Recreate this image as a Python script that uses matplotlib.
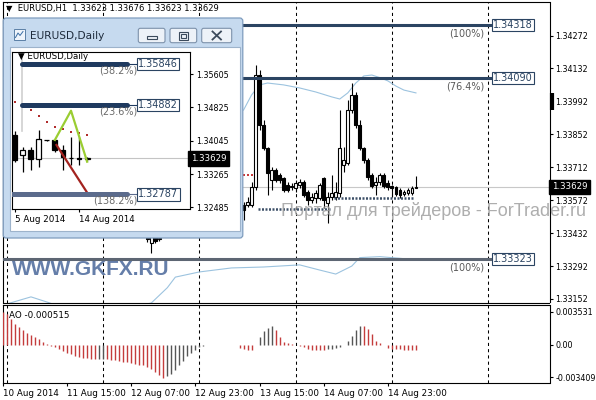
import matplotlib
matplotlib.use("Agg")
import matplotlib.pyplot as plt
import matplotlib.transforms as mtransforms
from matplotlib.patches import Rectangle, FancyBboxPatch
import numpy as np

plt.rcParams["font.family"] = ["DejaVu Sans"]

# ---------------- EURUSD H1 (bar 0 = 10 Aug 23:00) ----------------
h1_bar = [36, 37, 38, 39] + list(range(60, 104))
h1_open = [1.33430, 1.33392, 1.33418, 1.33405,
           1.33552, 1.33552, 1.33552, 1.33628, 1.34104, 1.33892, 1.33794, 1.33658, 1.33700, 1.33679,
           1.33666, 1.33636, 1.33632, 1.33624, 1.33636, 1.33649, 1.33607, 1.33573, 1.33581, 1.33581,
           1.33666, 1.33560, 1.33586, 1.33586, 1.33603, 1.33721, 1.33730, 1.33955, 1.34019, 1.33892,
           1.33794, 1.33743, 1.33679, 1.33636, 1.33649, 1.33679, 1.33645, 1.33632, 1.33628, 1.33615,
           1.33598, 1.33603, 1.33603, 1.33623]
h1_high = [1.33440, 1.33430, 1.33430, 1.33425,
           1.33566, 1.33586, 1.33649, 1.34147, 1.34125, 1.33913, 1.33799, 1.33714, 1.33709, 1.33687,
           1.33670, 1.33649, 1.33645, 1.33658, 1.33662, 1.33658, 1.33615, 1.33603, 1.33615, 1.33645,
           1.33672, 1.33607, 1.33679, 1.33649, 1.33955, 1.33799, 1.33998, 1.34070, 1.34032, 1.33913,
           1.33799, 1.33751, 1.33687, 1.33672, 1.33687, 1.33687, 1.33658, 1.33636, 1.33632, 1.33624,
           1.33615, 1.33624, 1.33632, 1.33676]
h1_low = [1.33395, 1.33348, 1.33390, 1.33398,
          1.33488, 1.33543, 1.33543, 1.33615, 1.33870, 1.33785, 1.33594, 1.33615, 1.33649, 1.33645,
          1.33607, 1.33607, 1.33615, 1.33607, 1.33624, 1.33586, 1.33552, 1.33560, 1.33560, 1.33573,
          1.33539, 1.33475, 1.33573, 1.33573, 1.33586, 1.33691, 1.33721, 1.33943, 1.33879, 1.33785,
          1.33730, 1.33658, 1.33624, 1.33594, 1.33636, 1.33624, 1.33615, 1.33586, 1.33590, 1.33581,
          1.33590, 1.33594, 1.33594, 1.33623]
h1_close = [1.33405, 1.33418, 1.33400, 1.33412,
            1.33530, 1.33566, 1.33628, 1.34104, 1.33892, 1.33794, 1.33687, 1.33700, 1.33658, 1.33658,
            1.33615, 1.33615, 1.33628, 1.33645, 1.33649, 1.33594, 1.33573, 1.33586, 1.33603, 1.33636,
            1.33573, 1.33586, 1.33603, 1.33607, 1.33794, 1.33743, 1.33955, 1.34019, 1.33892, 1.33794,
            1.33743, 1.33670, 1.33632, 1.33650, 1.33679, 1.33632, 1.33628, 1.33624, 1.33598, 1.33594,
            1.33607, 1.33615, 1.33624, 1.33629]
bid = 1.33629

# envelope lines (light blue)
env_up_bar = [60, 62, 64, 66, 70, 74, 78, 82, 84, 86, 88, 90, 92, 94, 96, 98, 100, 103]
env_up_val = [1.33955, 1.34019, 1.34062, 1.34070, 1.34062, 1.34049, 1.34032, 1.34011, 1.34002,
              1.34028, 1.34070, 1.34100, 1.34104, 1.34093, 1.34079, 1.34057, 1.34040, 1.34028]
env_lo_bar = [1, 7, 11, 16, 24, 32, 37, 41, 43, 49, 57, 65, 74, 79, 83, 87, 89, 94, 99, 103]
env_lo_val = [1.33131, 1.33161, 1.33139, 1.33110, 1.33105, 1.33115, 1.33135, 1.33200, 1.33245,
              1.33267, 1.33284, 1.33288, 1.33297, 1.33275, 1.33258, 1.33292, 1.33328, 1.33332,
              1.33325, 1.33318]

# dotted support lines and red dots
sup_level = [1.33534, 1.33581]
sup_start = [63.5, 82.5]
sup_end = [81.5, 102.5]
red_dot_bar = [60, 61, 62]
red_dot_val = [1.33679, 1.33679, 1.33679]

# fibo levels on H1
fib_level = [1.34318, 1.34090, 1.33323]
fib_pct = ["(100%)", "(76.4%)", "(100%)"]
fib_color = ["#2b4462", "#2b4462", "#5d6673"]
fib_end_bar = 122.2

# Awesome Oscillator, bars 0..103
ao_vals = [0.00346, 0.00329, 0.00277, 0.00225, 0.00190, 0.00156, 0.00128, 0.00104, 0.00080, 0.00059,
           0.00035, 0.00010, -0.00010, -0.00024, -0.00045, -0.00059, -0.00080, -0.00097, -0.00114, -0.00128,
           -0.00139, -0.00142, -0.00145, -0.00147, -0.00145, -0.00144, -0.00149, -0.00156, -0.00163, -0.00170,
           -0.00177, -0.00184, -0.00191, -0.00198, -0.00206, -0.00215, -0.00232, -0.00256, -0.00284, -0.00318,
           -0.00346, -0.00328, -0.00301, -0.00260, -0.00215, -0.00173, -0.00121, -0.00087, -0.00052, -0.00024,
           -0.00008, 0.00002, 0.00003, 0.00004, 0.00004, 0.00005, 0.00005, 0.00000, -0.00005, -0.00030,
           -0.00040, -0.00052, -0.00055, 0.00005, 0.00086, 0.00149, 0.00183, 0.00197, 0.00163, 0.00086,
           0.00035, 0.00024, 0.00010, 0.00004, -0.00010, -0.00017, -0.00045, -0.00050, -0.00050, -0.00050,
           -0.00051, -0.00045, -0.00042, -0.00035, -0.00017, 0.00004, 0.00045, 0.00094, 0.00163, 0.00197,
           0.00196, 0.00173, 0.00121, 0.00045, 0.00017, 0.00003, -0.00035, -0.00040, -0.00043, -0.00046,
           -0.00048, -0.00049, -0.00050, -0.000515]

price_ticks = [1.34272, 1.34132, 1.33992, 1.33852, 1.33712, 1.33572, 1.33432, 1.33292, 1.33152]
ao_ticks = [0.003531, 0.0, -0.003409]
ao_tick_labels = ["0.003531", "0.00", "-0.003409"]
time_tick_bar = [0, 16, 32, 48, 64, 80, 96]
time_tick_label = ["10 Aug 2014", "11 Aug 15:00", "12 Aug 07:00", "12 Aug 23:00",
                   "13 Aug 15:00", "14 Aug 07:00", "14 Aug 23:00"]
grid_bar = [1, 25, 49, 73, 97, 121]
side_marker = (1.33955, 1.34028)

# ---------------- EURUSD Daily (inset) ----------------
d_day = list(range(10))  # 5,6,7,8,10,11,12,13,14,15 Aug
d_open = [1.3418, 1.3371, 1.3383, 1.3361, 1.3405, 1.3405, 1.3383, 1.3364, 1.3363, 1.3362]
d_high = [1.3428, 1.3390, 1.3390, 1.3430, 1.3407, 1.3407, 1.3394, 1.3412, 1.3412, 1.3366]
d_low = [1.3355, 1.3332, 1.3336, 1.3342, 1.3404, 1.3378, 1.3336, 1.3348, 1.3348, 1.3358]
d_close = [1.3360, 1.3383, 1.3361, 1.3408, 1.3406, 1.3383, 1.3366, 1.3363, 1.3362, 1.33629]
sar_vals = [1.34957, 1.34868, 1.34763, 1.34611, 1.34482, 1.34372, 1.34311, 1.34241, 1.34218, 1.34171]
green_day = [5, 7, 9]
green_val = [1.34061, 1.34746, 1.33553]
red_day = [5.2, 9]
red_val = [1.33944, 1.32830]
d_fib_level = [1.35846, 1.34882, 1.32787]
d_fib_pct = ["(38.2%)", "(23.6%)", "(138.2%)"]
d_fib_start = [0.9, 0.9, -1.0]
d_fib_color = ["#1f3a5f", "#1f3a5f", "#5b6b8c"]
d_fib_end = 14.0
d_fib_box = 15.3
d_anchor = (0.9, 1.3426, 1.3613)
d_ticks = [1.35605, 1.34825, 1.34045, 1.33265, 1.32485]
d_tick_day = [0, 8]
d_tick_label = ["5 Aug 2014", "14 Aug 2014"]


def px_rect(x0, y0, x1, y1):
    return [x0 / 596, 1 - y1 / 400, (x1 - x0) / 596, (y1 - y0) / 400]


def draw_candles(axis, xs, o, h, l, c, width, lw):
    xs, o, h, l, c = map(np.asarray, (xs, o, h, l, c))
    axis.vlines(xs, l, h, color="black", lw=lw, zorder=3)
    up = c >= o
    axis.bar(xs, np.abs(c - o), width, bottom=np.minimum(o, c),
             color=np.where(up, "white", "black"), edgecolor="black",
             linewidth=lw, zorder=4)


fig = plt.figure(figsize=(5.96, 4.0), dpi=100, facecolor="white")

# ---------------- main H1 window ----------------
ax = fig.add_axes(px_rect(2.7, 2.0, 549.5, 302.5))
ax.set_xlim(-0.05, 136.3)
ax.set_ylim(1.331371, 1.344144)
for b in grid_bar:
    ax.axvline(b, color="black", lw=0.75, ls=(0, (3, 3)), zorder=1)
ax.axhline(bid, color="#c8c8c8", lw=0.8, zorder=1)
ax.plot(env_up_bar, env_up_val, color="#9cc3df", lw=0.8, zorder=2)
ax.plot(env_lo_bar, env_lo_val, color="#9cc3df", lw=0.8, zorder=2)
draw_candles(ax, h1_bar, h1_open, h1_high, h1_low, h1_close, 0.7, 0.8)
ax.hlines(sup_level, sup_start, sup_end, colors="#3d5068", lw=1.8,
          linestyles=(0, (0.8, 0.6)), zorder=5)
ax.scatter(red_dot_bar, red_dot_val, s=4, marker="s", color="#c83a3a", lw=0, zorder=5)
for lvl, pct, col in zip(fib_level, fib_pct, fib_color):
    ax.hlines(lvl, -1, fib_end_bar, colors=col, lw=2.2, zorder=6)
    ax.text(fib_end_bar + 0.1, lvl, f"{lvl:.5f}", ha="left", va="center", fontsize=7,
            color="#2b4462", zorder=7,
            bbox=dict(boxstyle="square,pad=0.12", fc="white", ec="#2b4462", lw=0.8))
    ax.annotate(pct, xy=(fib_end_bar - 2.1, lvl), xytext=(0, -2.5), textcoords="offset points",
                ha="right", va="top", fontsize=7, color="#5a5a5a", zorder=7)

ax.yaxis.tick_right()
ax.set_yticks(price_ticks)
ax.set_yticklabels([f"{v:.5f}" for v in price_ticks])
ax.tick_params(axis="y", direction="out", length=2.2, width=0.8, pad=2, labelsize=5.8)
ax.tick_params(axis="x", bottom=False, labelbottom=False)
for s in ax.spines.values():
    s.set_linewidth(0.8)

right = mtransforms.blended_transform_factory(ax.transAxes, ax.transData)
ax.text(1.004, bid, f"{bid:.5f}", transform=right, ha="left", va="center", fontsize=6.2,
        color="white", bbox=dict(boxstyle="square,pad=0.3", fc="black", ec="black"))
ax.plot([1.004, 1.004], side_marker, transform=right, color="black", lw=3,
        solid_capstyle="butt", clip_on=False)
ax.text(0.006, 0.993, "▼  EURUSD,H1  1.33623 1.33676 1.33623 1.33629", transform=ax.transAxes,
        ha="left", va="top", fontsize=6.0, color="black")

# ---------------- AO window ----------------
ax_ao = fig.add_axes(px_rect(2.7, 304.7, 549.5, 383.0))
ax_ao.set_xlim(-0.05, 136.3)
ax_ao.set_ylim(-0.00401, 0.00425)
ao_arr = np.array(ao_vals)
ao_up = np.r_[False, ao_arr[1:] > ao_arr[:-1]]
ao_col = np.where(ao_up, "#555555", "#c43c3c")
ax_ao.vlines(np.arange(len(ao_vals)), 0, ao_arr, colors=ao_col, lw=1.0, zorder=3)
for b in grid_bar:
    ax_ao.axvline(b, color="black", lw=0.75, ls=(0, (3, 3)), zorder=1)
ax_ao.yaxis.tick_right()
ax_ao.set_yticks(ao_ticks)
ax_ao.set_yticklabels(ao_tick_labels)
ax_ao.set_xticks(time_tick_bar)
ax_ao.set_xticklabels(time_tick_label)
for lab in ax_ao.get_xticklabels():
    lab.set_horizontalalignment("left")
ax_ao.tick_params(axis="y", direction="out", length=2.2, width=0.8, pad=2, labelsize=5.8)
ax_ao.tick_params(axis="x", direction="out", length=2.5, width=0.8, pad=1.5, labelsize=6.3)
for s in ax_ao.spines.values():
    s.set_linewidth(0.8)
ax_ao.text(0.011, 0.92, f"AO {ao_vals[-1]:.6f}", transform=ax_ao.transAxes,
           ha="left", va="top", fontsize=6.3)

# ---------------- overlay: watermarks + child window chrome ----------------
ov = fig.add_axes([0, 0, 1, 1])
ov.set_xlim(0, 596)
ov.set_ylim(400, 0)
ov.set_axis_off()
ov.text(12, 275, "WWW.GKFX.RU", family="Liberation Sans", weight="bold", fontsize=15,
        color="#5470a0", alpha=0.9, va="baseline")
ov.text(281, 216, "Портал для трейдеров - ForTrader.ru", family="Liberation Sans",
        fontsize=13, color="#a0a0a0", alpha=0.85, va="baseline")

ov.add_patch(FancyBboxPatch((3.2, 18.0), 239.6, 220.0, boxstyle="round,pad=0,rounding_size=3",
                            fc="#c6daef", ec="#7f9dbf", lw=0.9))
ov.add_patch(Rectangle((10.0, 47.0), 229.5, 183.5, fc="white", ec="#9db3cb", lw=0.8))
ov.add_patch(Rectangle((13.5, 29.0), 11, 11, fc="#eef4fb", ec="#5b7fa6", lw=0.7))
ov.plot([15.5, 18, 20, 23], [37.5, 33, 35.5, 31.5], color="#3a6ea5", lw=0.7)
ov.text(30, 36, "EURUSD,Daily", fontsize=7.6, va="center", ha="left", color="#1e2b3c")
for bx0, bx1 in [(138.3, 165.0), (170.0, 196.7), (201.7, 231.7)]:
    ov.add_patch(FancyBboxPatch((bx0, 28.3), bx1 - bx0, 14.4,
                                boxstyle="round,pad=0,rounding_size=2",
                                fc="#edf2f8", ec="#7d92ab", lw=0.8))
ov.add_patch(Rectangle((146.5, 36.0), 10, 3, fc="none", ec="#3b4a5c", lw=0.8))
ov.add_patch(Rectangle((178.5, 31.5), 9.5, 8, fc="none", ec="#3b4a5c", lw=0.8))
ov.add_patch(Rectangle((180.5, 33.5), 5.5, 4, fc="none", ec="#3b4a5c", lw=0.8))
ov.plot([212.5, 221], [31.5, 39.5], color="#3b4a5c", lw=1.3)
ov.plot([212.5, 221], [39.5, 31.5], color="#3b4a5c", lw=1.3)

# ---------------- inset daily chart ----------------
ax_in = fig.add_axes(px_rect(11.7, 51.7, 190, 209.3))
ax_in.set_xlim(-0.35, 21.75)
ax_in.set_ylim(1.32439, 1.36127)
ax_in.axhline(bid, color="#c4c4c4", lw=0.8, zorder=1)
ax_in.plot([d_anchor[0], d_anchor[0]], d_anchor[1:], color="#cfcfcf", lw=1.2, zorder=1)
draw_candles(ax_in, d_day, d_open, d_high, d_low, d_close, 0.6, 0.9)
ax_in.scatter(d_day, sar_vals, s=4, marker="s", color="#b02c2c", lw=0, zorder=5)
ax_in.plot(green_day, green_val, color="#9acd32", lw=1.6, zorder=6)
ax_in.plot(red_day, red_val, color="#a3231f", lw=1.6, zorder=6)
for lvl, pct, x0, col in zip(d_fib_level, d_fib_pct, d_fib_start, d_fib_color):
    ax_in.plot([x0, d_fib_end], [lvl, lvl], color=col, lw=3.6, solid_capstyle="round", zorder=7)
    ax_in.plot([d_fib_end, d_fib_box], [lvl, lvl], color=col, lw=0.8, zorder=7)
    ax_in.text(d_fib_box + 0.05, lvl, f"{lvl:.5f}", ha="left", va="center", fontsize=7,
               color="#2b4462", zorder=8,
               bbox=dict(boxstyle="square,pad=0.12", fc="white", ec="#2b4462", lw=0.8))
    ax_in.annotate(pct, xy=(d_fib_box - 0.1, lvl), xytext=(0, -1), textcoords="offset points",
                   ha="right", va="top", fontsize=7, color="#6a6a6a", zorder=8)
ax_in.yaxis.tick_right()
ax_in.set_yticks(d_ticks)
ax_in.set_yticklabels([f"{v:.5f}" for v in d_ticks])
ax_in.set_xticks(d_tick_day)
ax_in.set_xticklabels(d_tick_label)
for lab in ax_in.get_xticklabels():
    lab.set_horizontalalignment("left")
ax_in.tick_params(axis="y", direction="out", length=2.2, width=0.8, pad=2, labelsize=5.8)
ax_in.tick_params(axis="x", direction="out", length=2.5, width=0.8, pad=1.5, labelsize=6.3)
for s in ax_in.spines.values():
    s.set_linewidth(0.8)
rin = mtransforms.blended_transform_factory(ax_in.transAxes, ax_in.transData)
ax_in.text(1.006, bid, f"{bid:.5f}", transform=rin, ha="left", va="center", fontsize=6.2,
           color="white", bbox=dict(boxstyle="square,pad=0.3", fc="black", ec="black"))
ax_in.text(0.035, 0.995, "▼ EURUSD,Daily", transform=ax_in.transAxes, ha="left", va="top",
           fontsize=6.2, color="black", zorder=9)

fig.savefig("out.png", dpi=100)
